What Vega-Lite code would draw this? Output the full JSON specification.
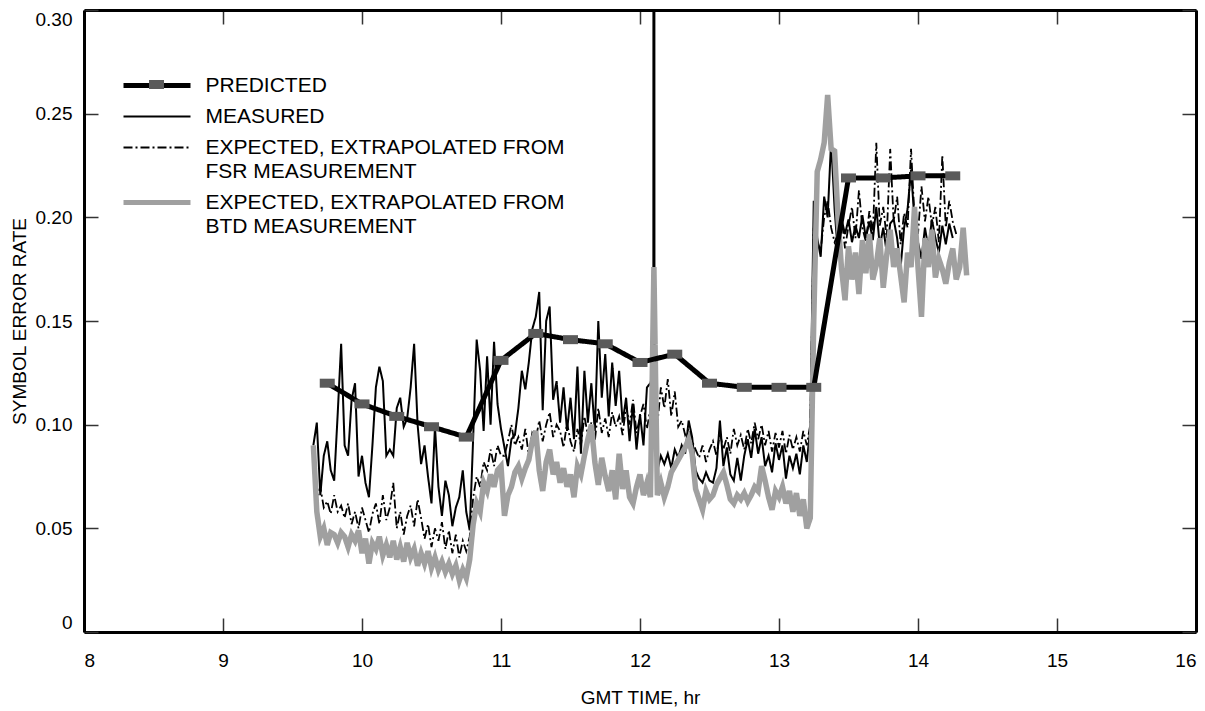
{
"$schema": "https://vega.github.io/schema/vega-lite/v6.json",
"width": 1112, "height": 622,
"autosize": "none",
"padding": {"left": 84, "top": 10, "right": 9, "bottom": 79},
"background": "white",
"config": {
  "font": "Liberation Sans",
  "view": {"stroke": null},
  "axis": {"grid": false, "domainColor": "black", "domainWidth": 3, "tickColor": "#333333", "tickWidth": 1.5, "tickSize": -14,
    "labelFont": "Liberation Sans", "labelFontSize": 19, "labelColor": "black", "labelFlush": true,
    "titleFont": "Liberation Sans", "titleFontSize": 19, "titleFontWeight": "normal", "titleColor": "black"}
},
"datasets": {
"obs": [
{"t":9.650,"MEASURED":0.090,"FSR":0.078,"BTD":0.090},
{"t":9.675,"MEASURED":0.101,"FSR":0.065,"BTD":0.058},
{"t":9.700,"MEASURED":0.066,"FSR":0.070,"BTD":0.046},
{"t":9.725,"MEASURED":0.085,"FSR":0.060,"BTD":0.050},
{"t":9.750,"MEASURED":0.092,"FSR":0.063,"BTD":0.042},
{"t":9.775,"MEASURED":0.078,"FSR":0.057,"BTD":0.048},
{"t":9.800,"MEASURED":0.073,"FSR":0.066,"BTD":0.047},
{"t":9.825,"MEASURED":0.105,"FSR":0.058,"BTD":0.043},
{"t":9.850,"MEASURED":0.139,"FSR":0.061,"BTD":0.048},
{"t":9.875,"MEASURED":0.090,"FSR":0.055,"BTD":0.046},
{"t":9.900,"MEASURED":0.085,"FSR":0.062,"BTD":0.041},
{"t":9.925,"MEASURED":0.112,"FSR":0.052,"BTD":0.047},
{"t":9.950,"MEASURED":0.120,"FSR":0.058,"BTD":0.044},
{"t":9.975,"MEASURED":0.075,"FSR":0.050,"BTD":0.049},
{"t":10.000,"MEASURED":0.085,"FSR":0.060,"BTD":0.038},
{"t":10.025,"MEASURED":0.072,"FSR":0.054,"BTD":0.045},
{"t":10.050,"MEASURED":0.065,"FSR":0.048,"BTD":0.033},
{"t":10.075,"MEASURED":0.090,"FSR":0.057,"BTD":0.043},
{"t":10.100,"MEASURED":0.118,"FSR":0.062,"BTD":0.040},
{"t":10.125,"MEASURED":0.128,"FSR":0.052,"BTD":0.046},
{"t":10.150,"MEASURED":0.121,"FSR":0.066,"BTD":0.037},
{"t":10.175,"MEASURED":0.085,"FSR":0.054,"BTD":0.042},
{"t":10.200,"MEASURED":0.088,"FSR":0.060,"BTD":0.036},
{"t":10.225,"MEASURED":0.085,"FSR":0.072,"BTD":0.044},
{"t":10.250,"MEASURED":0.108,"FSR":0.050,"BTD":0.035},
{"t":10.275,"MEASURED":0.113,"FSR":0.058,"BTD":0.041},
{"t":10.300,"MEASURED":0.099,"FSR":0.047,"BTD":0.034},
{"t":10.325,"MEASURED":0.103,"FSR":0.056,"BTD":0.043},
{"t":10.350,"MEASURED":0.118,"FSR":0.061,"BTD":0.036},
{"t":10.375,"MEASURED":0.139,"FSR":0.051,"BTD":0.040},
{"t":10.400,"MEASURED":0.100,"FSR":0.064,"BTD":0.032},
{"t":10.425,"MEASURED":0.081,"FSR":0.055,"BTD":0.038},
{"t":10.450,"MEASURED":0.090,"FSR":0.045,"BTD":0.033},
{"t":10.475,"MEASURED":0.075,"FSR":0.052,"BTD":0.039},
{"t":10.500,"MEASURED":0.062,"FSR":0.041,"BTD":0.031},
{"t":10.525,"MEASURED":0.099,"FSR":0.050,"BTD":0.036},
{"t":10.550,"MEASURED":0.070,"FSR":0.044,"BTD":0.030},
{"t":10.575,"MEASURED":0.056,"FSR":0.053,"BTD":0.034},
{"t":10.600,"MEASURED":0.073,"FSR":0.040,"BTD":0.029},
{"t":10.625,"MEASURED":0.066,"FSR":0.049,"BTD":0.033},
{"t":10.650,"MEASURED":0.051,"FSR":0.038,"BTD":0.028},
{"t":10.675,"MEASURED":0.060,"FSR":0.047,"BTD":0.032},
{"t":10.700,"MEASURED":0.065,"FSR":0.036,"BTD":0.025},
{"t":10.725,"MEASURED":0.078,"FSR":0.044,"BTD":0.030},
{"t":10.750,"MEASURED":0.058,"FSR":0.039,"BTD":0.026},
{"t":10.775,"MEASURED":0.049,"FSR":0.046,"BTD":0.035},
{"t":10.800,"MEASURED":0.094,"FSR":0.065,"BTD":0.052},
{"t":10.825,"MEASURED":0.141,"FSR":0.075,"BTD":0.062},
{"t":10.850,"MEASURED":0.126,"FSR":0.070,"BTD":0.058},
{"t":10.875,"MEASURED":0.097,"FSR":0.082,"BTD":0.072},
{"t":10.900,"MEASURED":0.133,"FSR":0.078,"BTD":0.068},
{"t":10.925,"MEASURED":0.100,"FSR":0.088,"BTD":0.076},
{"t":10.950,"MEASURED":0.140,"FSR":0.080,"BTD":0.070},
{"t":10.975,"MEASURED":0.110,"FSR":0.090,"BTD":0.078},
{"t":11.000,"MEASURED":0.098,"FSR":0.085,"BTD":0.080},
{"t":11.025,"MEASURED":0.089,"FSR":0.085,"BTD":0.056},
{"t":11.050,"MEASURED":0.080,"FSR":0.092,"BTD":0.066},
{"t":11.075,"MEASURED":0.093,"FSR":0.100,"BTD":0.070},
{"t":11.100,"MEASURED":0.095,"FSR":0.090,"BTD":0.077},
{"t":11.125,"MEASURED":0.108,"FSR":0.094,"BTD":0.080},
{"t":11.150,"MEASURED":0.126,"FSR":0.088,"BTD":0.074},
{"t":11.175,"MEASURED":0.117,"FSR":0.098,"BTD":0.079},
{"t":11.200,"MEASURED":0.130,"FSR":0.085,"BTD":0.083},
{"t":11.225,"MEASURED":0.146,"FSR":0.096,"BTD":0.092},
{"t":11.250,"MEASURED":0.152,"FSR":0.093,"BTD":0.097},
{"t":11.275,"MEASURED":0.164,"FSR":0.102,"BTD":0.078},
{"t":11.300,"MEASURED":0.107,"FSR":0.092,"BTD":0.068},
{"t":11.325,"MEASURED":0.150,"FSR":0.100,"BTD":0.082},
{"t":11.350,"MEASURED":0.157,"FSR":0.106,"BTD":0.088},
{"t":11.375,"MEASURED":0.112,"FSR":0.094,"BTD":0.076},
{"t":11.400,"MEASURED":0.121,"FSR":0.100,"BTD":0.082},
{"t":11.425,"MEASURED":0.101,"FSR":0.097,"BTD":0.072},
{"t":11.450,"MEASURED":0.118,"FSR":0.089,"BTD":0.079},
{"t":11.475,"MEASURED":0.097,"FSR":0.101,"BTD":0.070},
{"t":11.500,"MEASURED":0.113,"FSR":0.092,"BTD":0.076},
{"t":11.525,"MEASURED":0.093,"FSR":0.087,"BTD":0.065},
{"t":11.550,"MEASURED":0.128,"FSR":0.098,"BTD":0.080},
{"t":11.575,"MEASURED":0.086,"FSR":0.090,"BTD":0.076},
{"t":11.600,"MEASURED":0.126,"FSR":0.104,"BTD":0.085},
{"t":11.625,"MEASURED":0.101,"FSR":0.095,"BTD":0.093},
{"t":11.650,"MEASURED":0.120,"FSR":0.101,"BTD":0.100},
{"t":11.675,"MEASURED":0.097,"FSR":0.092,"BTD":0.082},
{"t":11.700,"MEASURED":0.150,"FSR":0.108,"BTD":0.071},
{"t":11.725,"MEASURED":0.113,"FSR":0.096,"BTD":0.084},
{"t":11.750,"MEASURED":0.134,"FSR":0.103,"BTD":0.075},
{"t":11.775,"MEASURED":0.104,"FSR":0.094,"BTD":0.068},
{"t":11.800,"MEASURED":0.130,"FSR":0.106,"BTD":0.078},
{"t":11.825,"MEASURED":0.109,"FSR":0.099,"BTD":0.064},
{"t":11.850,"MEASURED":0.126,"FSR":0.104,"BTD":0.086},
{"t":11.875,"MEASURED":0.101,"FSR":0.095,"BTD":0.069},
{"t":11.900,"MEASURED":0.113,"FSR":0.109,"BTD":0.078},
{"t":11.925,"MEASURED":0.092,"FSR":0.100,"BTD":0.065},
{"t":11.950,"MEASURED":0.110,"FSR":0.112,"BTD":0.062},
{"t":11.975,"MEASURED":0.088,"FSR":0.096,"BTD":0.070},
{"t":12.000,"MEASURED":0.105,"FSR":0.104,"BTD":0.076},
{"t":12.025,"MEASURED":0.090,"FSR":0.110,"BTD":0.066},
{"t":12.050,"MEASURED":0.118,"FSR":0.098,"BTD":0.072},
{"t":12.075,"MEASURED":0.120,"FSR":0.108,"BTD":0.065},
{"t":12.096,"MEASURED":0.125,"FSR":null,"BTD":null},
{"t":12.100,"MEASURED":1.500,"FSR":0.112,"BTD":0.176},
{"t":12.104,"MEASURED":0.130,"FSR":null,"BTD":null},
{"t":12.125,"MEASURED":0.078,"FSR":0.100,"BTD":0.066},
{"t":12.150,"MEASURED":0.085,"FSR":0.118,"BTD":0.072},
{"t":12.175,"MEASURED":0.081,"FSR":0.108,"BTD":0.065},
{"t":12.200,"MEASURED":0.086,"FSR":0.122,"BTD":0.070},
{"t":12.225,"MEASURED":0.079,"FSR":0.104,"BTD":0.077},
{"t":12.250,"MEASURED":0.088,"FSR":0.116,"BTD":0.080},
{"t":12.275,"MEASURED":0.084,"FSR":0.099,"BTD":0.083},
{"t":12.300,"MEASURED":0.090,"FSR":0.102,"BTD":0.086},
{"t":12.325,"MEASURED":0.086,"FSR":0.095,"BTD":0.089},
{"t":12.350,"MEASURED":0.102,"FSR":0.098,"BTD":0.093},
{"t":12.375,"MEASURED":0.094,"FSR":0.092,"BTD":0.086},
{"t":12.400,"MEASURED":0.078,"FSR":0.088,"BTD":0.069},
{"t":12.425,"MEASURED":0.074,"FSR":0.084,"BTD":0.064},
{"t":12.450,"MEASURED":0.072,"FSR":0.090,"BTD":0.059},
{"t":12.475,"MEASURED":0.077,"FSR":0.082,"BTD":0.068},
{"t":12.500,"MEASURED":0.073,"FSR":0.088,"BTD":0.064},
{"t":12.525,"MEASURED":0.072,"FSR":0.092,"BTD":0.066},
{"t":12.550,"MEASURED":0.079,"FSR":0.085,"BTD":0.071},
{"t":12.575,"MEASURED":0.102,"FSR":0.096,"BTD":0.074},
{"t":12.600,"MEASURED":0.080,"FSR":0.088,"BTD":0.077},
{"t":12.625,"MEASURED":0.089,"FSR":0.094,"BTD":0.071},
{"t":12.650,"MEASURED":0.076,"FSR":0.086,"BTD":0.064},
{"t":12.675,"MEASURED":0.073,"FSR":0.098,"BTD":0.062},
{"t":12.700,"MEASURED":0.084,"FSR":0.090,"BTD":0.066},
{"t":12.725,"MEASURED":0.073,"FSR":0.095,"BTD":0.064},
{"t":12.750,"MEASURED":0.085,"FSR":0.088,"BTD":0.067},
{"t":12.775,"MEASURED":0.093,"FSR":0.098,"BTD":0.063},
{"t":12.800,"MEASURED":0.084,"FSR":0.091,"BTD":0.066},
{"t":12.825,"MEASURED":0.098,"FSR":0.101,"BTD":0.070},
{"t":12.850,"MEASURED":0.086,"FSR":0.093,"BTD":0.068},
{"t":12.875,"MEASURED":0.094,"FSR":0.100,"BTD":0.080},
{"t":12.900,"MEASURED":0.080,"FSR":0.090,"BTD":0.073},
{"t":12.925,"MEASURED":0.085,"FSR":0.097,"BTD":0.065},
{"t":12.950,"MEASURED":0.077,"FSR":0.087,"BTD":0.059},
{"t":12.975,"MEASURED":0.091,"FSR":0.096,"BTD":0.068},
{"t":13.000,"MEASURED":0.083,"FSR":0.089,"BTD":0.065},
{"t":13.025,"MEASURED":0.090,"FSR":0.097,"BTD":0.070},
{"t":13.050,"MEASURED":0.074,"FSR":0.086,"BTD":0.062},
{"t":13.075,"MEASURED":0.085,"FSR":0.095,"BTD":0.068},
{"t":13.100,"MEASURED":0.079,"FSR":0.088,"BTD":0.058},
{"t":13.125,"MEASURED":0.086,"FSR":0.094,"BTD":0.067},
{"t":13.150,"MEASURED":0.076,"FSR":0.087,"BTD":0.056},
{"t":13.175,"MEASURED":0.090,"FSR":0.097,"BTD":0.064},
{"t":13.200,"MEASURED":0.082,"FSR":0.090,"BTD":0.050},
{"t":13.225,"MEASURED":0.098,"FSR":0.100,"BTD":0.055},
{"t":13.250,"MEASURED":0.208,"FSR":0.195,"BTD":0.150},
{"t":13.275,"MEASURED":0.190,"FSR":0.188,"BTD":0.222},
{"t":13.300,"MEASURED":0.181,"FSR":0.184,"BTD":0.228},
{"t":13.325,"MEASURED":0.210,"FSR":0.200,"BTD":0.236},
{"t":13.350,"MEASURED":0.200,"FSR":0.208,"BTD":0.259},
{"t":13.375,"MEASURED":0.237,"FSR":0.195,"BTD":0.233},
{"t":13.400,"MEASURED":0.204,"FSR":0.188,"BTD":0.232},
{"t":13.425,"MEASURED":0.182,"FSR":0.192,"BTD":0.199},
{"t":13.450,"MEASURED":0.199,"FSR":0.200,"BTD":0.175},
{"t":13.475,"MEASURED":0.192,"FSR":0.185,"BTD":0.160},
{"t":13.500,"MEASURED":0.199,"FSR":0.196,"BTD":0.186},
{"t":13.525,"MEASURED":0.188,"FSR":0.205,"BTD":0.170},
{"t":13.550,"MEASURED":0.196,"FSR":0.190,"BTD":0.183},
{"t":13.575,"MEASURED":0.190,"FSR":0.213,"BTD":0.163},
{"t":13.600,"MEASURED":0.201,"FSR":0.195,"BTD":0.189},
{"t":13.625,"MEASURED":0.190,"FSR":0.188,"BTD":0.173},
{"t":13.650,"MEASURED":0.198,"FSR":0.203,"BTD":0.192},
{"t":13.675,"MEASURED":0.189,"FSR":0.192,"BTD":0.170},
{"t":13.700,"MEASURED":0.205,"FSR":0.236,"BTD":0.177},
{"t":13.725,"MEASURED":0.186,"FSR":0.196,"BTD":0.190},
{"t":13.750,"MEASURED":0.195,"FSR":0.205,"BTD":0.166},
{"t":13.775,"MEASURED":0.183,"FSR":0.190,"BTD":0.182},
{"t":13.800,"MEASURED":0.197,"FSR":0.233,"BTD":0.194},
{"t":13.825,"MEASURED":0.199,"FSR":0.198,"BTD":0.176},
{"t":13.850,"MEASURED":0.190,"FSR":0.210,"BTD":0.185},
{"t":13.875,"MEASURED":0.176,"FSR":0.187,"BTD":0.172},
{"t":13.900,"MEASURED":0.195,"FSR":0.202,"BTD":0.159},
{"t":13.925,"MEASURED":0.204,"FSR":0.195,"BTD":0.183},
{"t":13.950,"MEASURED":0.223,"FSR":0.233,"BTD":0.176},
{"t":13.975,"MEASURED":0.198,"FSR":0.200,"BTD":0.205},
{"t":14.000,"MEASURED":0.188,"FSR":0.192,"BTD":0.176},
{"t":14.025,"MEASURED":0.180,"FSR":0.215,"BTD":0.152},
{"t":14.050,"MEASURED":0.195,"FSR":0.198,"BTD":0.190},
{"t":14.075,"MEASURED":0.185,"FSR":0.210,"BTD":0.176},
{"t":14.100,"MEASURED":0.199,"FSR":0.196,"BTD":0.194},
{"t":14.125,"MEASURED":0.190,"FSR":0.205,"BTD":0.171},
{"t":14.150,"MEASURED":0.183,"FSR":0.188,"BTD":0.180},
{"t":14.175,"MEASURED":0.196,"FSR":0.230,"BTD":0.175},
{"t":14.200,"MEASURED":0.187,"FSR":0.195,"BTD":0.168},
{"t":14.225,"MEASURED":0.197,"FSR":0.208,"BTD":0.178},
{"t":14.250,"MEASURED":0.190,"FSR":0.198,"BTD":0.185},
{"t":14.275,"MEASURED":null,"FSR":0.192,"BTD":0.170},
{"t":14.300,"MEASURED":null,"FSR":null,"BTD":0.176},
{"t":14.325,"MEASURED":null,"FSR":null,"BTD":0.195},
{"t":14.350,"MEASURED":null,"FSR":null,"BTD":0.172}
],
"pred": [
{"t":9.75,"PREDICTED":0.120},{"t":10.0,"PREDICTED":0.110},{"t":10.25,"PREDICTED":0.104},{"t":10.5,"PREDICTED":0.099},
{"t":10.75,"PREDICTED":0.094},{"t":11.0,"PREDICTED":0.131},{"t":11.25,"PREDICTED":0.144},{"t":11.5,"PREDICTED":0.141},
{"t":11.75,"PREDICTED":0.139},{"t":12.0,"PREDICTED":0.130},{"t":12.25,"PREDICTED":0.134},{"t":12.5,"PREDICTED":0.120},
{"t":12.75,"PREDICTED":0.118},{"t":13.0,"PREDICTED":0.118},{"t":13.25,"PREDICTED":0.118},{"t":13.5,"PREDICTED":0.219},
{"t":13.75,"PREDICTED":0.219},{"t":14.0,"PREDICTED":0.220},{"t":14.25,"PREDICTED":0.220}
]
},
"layer": [
{
  "data": {"name": "obs"},
  "transform": [{"fold": ["MEASURED"], "as": ["series", "v"]}],
  "mark": {"type": "line", "strokeWidth": 2, "clip": true, "invalid": "filter"},
  "encoding": {
    "x": {"field": "t", "type": "quantitative", "scale": {"domain": [8, 16], "nice": false, "zero": false},
      "axis": {"orient": "bottom", "title": "GMT TIME, hr", "values": [8,9,10,11,12,13,14,15,16], "format": "d", "labelPadding": 33, "titlePadding": 18}},
    "y": {"field": "v", "type": "quantitative", "scale": {"domain": [0, 0.3], "nice": false},
      "axis": {"orient": "left", "title": "SYMBOL ERROR RATE", "values": [0,0.05,0.1,0.15,0.2,0.25,0.3],
        "labelExpr": "datum.value == 0 ? '0' : format(datum.value, '.2f')", "labelPadding": 26, "titlePadding": 6}},
    "color": {"field": "series", "type": "nominal",
      "scale": {"domain": ["PREDICTED", "MEASURED", "FSR", "BTD"], "range": ["#000000", "#000000", "#000000", "#a0a0a0"]},
      "legend": {"title": null, "orient": "none", "legendX": 62.5, "legendY": 65, "padding": 0,
        "symbolType": "stroke", "symbolSize": 4489, "symbolStrokeWidth": 2, "labelOffset": 38, "rowPadding": 9,
        "labelFont": "Liberation Sans", "labelFontSize": 21, "labelColor": "black", "labelLimit": 600,
        "labelExpr": "datum.value == 'FSR' ? ['EXPECTED, EXTRAPOLATED FROM', 'FSR MEASUREMENT'] : datum.value == 'BTD' ? ['EXPECTED, EXTRAPOLATED FROM', 'BTD MEASUREMENT'] : datum.label",
        "encode": {
          "symbols": {"update": {"strokeWidth": {"signal": "(datum.value == 'PREDICTED' || datum.value == 'BTD') ? 5 : 2"}}},
          "labels": {"update": {"lineHeight": {"value": 24}}}
        }}},
    "strokeDash": {"field": "series", "type": "nominal",
      "scale": {"domain": ["PREDICTED", "MEASURED", "FSR", "BTD"], "range": [[1,0], [1,0], [9,3,2,3], [1,0]]}}
  }
},
{
  "data": {"name": "obs"},
  "transform": [{"fold": ["FSR"], "as": ["series", "v"]}],
  "mark": {"type": "line", "strokeWidth": 1.8, "clip": true, "invalid": "filter"},
  "encoding": {
    "x": {"field": "t", "type": "quantitative", "axis": null},
    "y": {"field": "v", "type": "quantitative", "axis": null},
    "color": {"field": "series", "type": "nominal"},
    "strokeDash": {"field": "series", "type": "nominal"}
  }
},
{
  "data": {"name": "obs"},
  "transform": [{"fold": ["BTD"], "as": ["series", "v"]}],
  "mark": {"type": "line", "strokeWidth": 5.5, "clip": true, "invalid": "filter"},
  "encoding": {
    "x": {"field": "t", "type": "quantitative", "axis": null},
    "y": {"field": "v", "type": "quantitative", "axis": null},
    "color": {"field": "series", "type": "nominal"},
    "strokeDash": {"field": "series", "type": "nominal"}
  }
},
{
  "data": {"name": "pred"},
  "transform": [{"fold": ["PREDICTED"], "as": ["series", "v"]}],
  "mark": {"type": "line", "strokeWidth": 5, "clip": true},
  "encoding": {
    "x": {"field": "t", "type": "quantitative", "axis": null},
    "y": {"field": "v", "type": "quantitative", "axis": null},
    "color": {"field": "series", "type": "nominal"},
    "strokeDash": {"field": "series", "type": "nominal"}
  }
},
{
  "data": {"name": "pred"},
  "transform": [{"fold": ["PREDICTED"], "as": ["pseries", "v"]}],
  "mark": {"type": "point", "filled": true, "fill": "#5a5a5a", "size": 225, "opacity": 1, "strokeWidth": 0},
  "encoding": {
    "x": {"field": "t", "type": "quantitative",
      "axis": {"orient": "top", "title": null, "labels": false, "values": [8,9,10,11,12,13,14,15,16]}},
    "y": {"field": "v", "type": "quantitative",
      "axis": {"orient": "right", "title": null, "labels": false, "values": [0,0.05,0.1,0.15,0.2,0.25,0.3]}},
    "shape": {"field": "pseries", "type": "nominal",
      "scale": {"domain": ["PREDICTED"], "range": ["M-1,-0.6H1V0.6H-1Z"]},
      "legend": {"title": null, "orient": "none", "legendX": 65, "legendY": 67, "padding": 0,
        "symbolSize": 225, "symbolFillColor": "#5a5a5a", "symbolStrokeWidth": 0, "symbolOpacity": 1,
        "labelExpr": "''", "labelFontSize": 1, "labelOffset": 0}}
  }
}
],
"resolve": {"axis": {"x": "independent", "y": "independent"}}
}
